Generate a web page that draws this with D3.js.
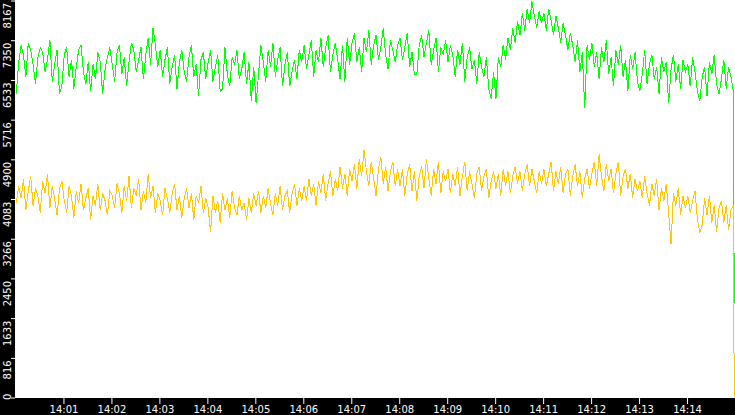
<!DOCTYPE html>
<html>
<head>
<meta charset="utf-8">
<script src="https://cdn.jsdelivr.net/npm/d3@7"></script>
<style>
  html, body { margin: 0; padding: 0; background: #000; }
  svg { display: block; }
  text { font-family: "DejaVu Sans", sans-serif; fill: #fff; }
</style>
</head>
<body>
<div id="chart"></div>
<script>
// ---- data ----
const startTime = "14:00:01";
const stepSeconds = 3;
const yTickValues = [0, 816, 1633, 2450, 3266, 4083, 4900, 5716, 6533, 7350, 8167];
const xTickLabels = ["14:01","14:02","14:03","14:04","14:05","14:06","14:07","14:08","14:09","14:10","14:11","14:12","14:13","14:14"];

const greenSeries = [
  6250,6900,7250,7050,6600,7300,7150,6850,6450,7000,7200,7100,6700,6950,7350,6500,6850,7150,6250,6400,
  7050,7200,6600,6950,6350,6800,7150,7250,6700,6450,6900,6300,6850,6550,7100,6900,6250,6750,7000,7200,
  6850,6500,7100,7250,6650,7000,6400,6900,7300,7150,6700,6950,7200,6550,7050,7400,6850,7600,7250,6800,
  7150,6600,6950,7200,6450,6800,7050,6350,6900,7150,6700,6500,7000,7250,6600,6850,6200,6950,7100,6550,
  6900,7150,6500,6800,7050,6300,6350,7200,6650,6400,7000,6850,7150,6550,6750,7100,6450,6900,6100,6800,
  6050,6650,7250,6900,6500,7150,6800,7300,6600,6950,7200,6400,6850,7100,6400,6700,6950,6550,7150,6900,
  7250,6750,7050,7350,6600,7150,6900,7400,6800,7200,7450,6700,7050,7300,6950,6550,7250,6500,7400,6850,
  7300,7500,6900,7200,6700,7400,7100,7550,6850,7250,7450,6950,7200,7600,7050,6750,7350,7150,6900,7250,
  7400,6950,7200,7500,6800,7100,6650,6650,7250,7450,7000,7300,7550,6850,7150,7400,6700,7200,7050,7350,
  6900,7250,7050,6600,7150,6850,7300,6500,7000,7200,6750,6950,6450,7100,6800,6600,7000,6350,6150,6700,
  6150,7000,6800,7250,6950,7400,7150,7600,7300,7750,7450,7900,7550,8000,7700,8150,7850,7600,7950,7700,
  7900,7550,8000,7750,7450,7850,7600,7300,7700,7450,7150,7500,7250,6900,7350,6700,7100,5950,7250,6950,
  7300,6800,7100,6550,7200,6900,7350,6650,7000,6400,7150,6850,7250,6600,6950,6300,7050,6750,7100,6500,
  6300,6650,7150,6450,6850,7050,6550,6800,6250,7000,6700,6900,6050,6750,7050,6500,6850,6350,6950,6700,
  6850,6400,7000,6700,6300,6100,6600,6800,6200,6900,6650,7050,6450,6250,6550,6950,6350,6800,6600,6300,
  1950
];

const yellowSeries = [
  4000,4350,4100,4500,3850,4250,4550,3950,4300,4150,3800,4450,4200,4600,3900,4350,4100,3750,4300,4450,
  4050,3800,4350,4150,3700,4250,4000,4400,3850,4100,4300,3650,4150,3950,4400,3850,4200,4050,3750,4250,
  4150,3900,4400,4200,3800,4350,4050,4550,3900,4300,4150,4500,3850,4250,4000,4600,4100,4350,3800,4200,
  4050,3750,4300,4100,3800,4200,4400,3850,4150,3700,4100,4300,3900,4200,3650,4150,4000,4350,3800,4100,
  3900,3400,4150,3800,4050,3600,4200,3850,4100,3700,4250,3900,3750,4150,3850,4000,3650,4100,3800,4200,
  3950,4250,3800,4150,3900,4300,4000,3750,4200,3950,4350,3850,4150,4250,3800,4200,4400,3950,4300,4050,
  4350,4050,4500,4150,4400,3950,4450,4200,4600,4050,4400,4650,4150,4500,4250,4750,4300,4600,4150,4700,
  4450,4800,4300,4900,4550,5100,4650,4350,4850,4500,4150,4700,4950,4400,4750,4250,4650,4850,4350,4700,
  4350,4700,4150,4600,4800,4250,4650,4050,4550,4750,4300,4900,4500,4150,4700,4400,4850,4200,4650,4450,
  4700,4200,4600,4350,4750,4150,4550,4850,4250,4650,4400,4100,4600,4750,4250,4550,4700,4100,4450,4650,
  4300,4600,4150,4700,4350,4650,4200,4550,4750,4400,4650,4250,4600,4800,4350,4700,4450,4200,4650,4400,
  4700,4350,4600,4850,4250,4650,4400,4750,4200,4600,4700,4150,4550,4800,4350,4650,4100,4500,4700,4300,
  4600,4850,4350,5000,4550,4250,4800,4450,4700,4200,4600,4850,4150,4550,4700,4300,4600,4100,4500,4250,
  4450,4100,4550,4200,3950,4400,4150,4500,3850,4300,4050,4400,3800,3150,4200,3950,4300,3750,4150,3900,
  4150,3800,4050,4250,3650,3400,3550,4100,3750,4150,3600,3950,3400,3900,4050,3600,3950,3450,3850,3950,
  0
];

// ---- layout ----
const W = 735, H = 415;
const margin = { left: 15, top: 0, right: 0, bottom: 17 };
const plotW = W - margin.left - margin.right;
const plotH = H - margin.top - margin.bottom;

const parse = d3.timeParse("%H:%M:%S");
const t0 = parse(startTime);
const domainStart = parse("14:00:00");
const domainEnd = parse("14:15:00");
const lastTime = parse("14:14:59");
const timeAt = i => new Date(t0.getTime() + i * stepSeconds * 1000);

function times(n) {
  const arr = [];
  for (let i = 0; i < n - 1; i++) arr.push(timeAt(i));
  arr.push(lastTime);
  return arr;
}

const x = d3.scaleTime().domain([domainStart, domainEnd]).range([0.5, plotW]);
const y = d3.scaleLinear().domain([0, 8167]).range([plotH - 0.5, 0.5]);

const svg = d3.select("#chart").append("svg").attr("width", W).attr("height", H);
svg.append("rect").attr("width", W).attr("height", H).attr("fill", "#000");

const g = svg.append("g").attr("transform", `translate(${margin.left},${margin.top})`);
g.append("rect").attr("width", plotW).attr("height", plotH).attr("fill", "#fff");

const line = d3.line().x(d => x(d[0])).y(d => y(d[1]));

const gTimes = times(greenSeries.length);
const yTimes = times(yellowSeries.length);

g.append("path")
  .datum(greenSeries.map((v, i) => [gTimes[i], v]))
  .attr("d", line).attr("fill", "none").attr("stroke", "#00ff00")
  .attr("stroke-width", 1).attr("shape-rendering", "crispEdges");

g.append("path")
  .datum(yellowSeries.map((v, i) => [yTimes[i], v]))
  .attr("d", line).attr("fill", "none").attr("stroke", "#ffc800")
  .attr("stroke-width", 1).attr("shape-rendering", "crispEdges");

// ---- x axis ----
const xTicks = xTickLabels.map(s => parse(s + ":00"));
const xAxis = d3.axisBottom(x).tickValues(xTicks).tickFormat(d3.timeFormat("%H:%M")).tickSize(6).tickPadding(2);
const gx = g.append("g").attr("transform", `translate(0,${plotH})`).call(xAxis);
gx.select(".domain").remove();
gx.selectAll(".tick line").attr("stroke", "#fff");
gx.selectAll(".tick text").attr("fill", "#fff").style("font-size", "10px").style("font-family", "DejaVu Sans");

// ---- y axis ----
const yAxis = d3.axisLeft(y).tickValues(yTickValues).tickFormat(d3.format("d")).tickSize(4).tickPadding(0);
const gy = g.append("g").call(yAxis);
gy.select(".domain").remove();
gy.selectAll(".tick line").attr("stroke", "#fff");
gy.selectAll(".tick text")
  .attr("fill", "#fff")
  .style("font-size", "10px").style("font-family", "DejaVu Sans")
  .attr("x", null).attr("dy", null)
  .attr("text-anchor", d => d === 0 ? "start" : "end")
  .attr("transform", "translate(-4,2) rotate(-90)");
</script>
</body>
</html>
